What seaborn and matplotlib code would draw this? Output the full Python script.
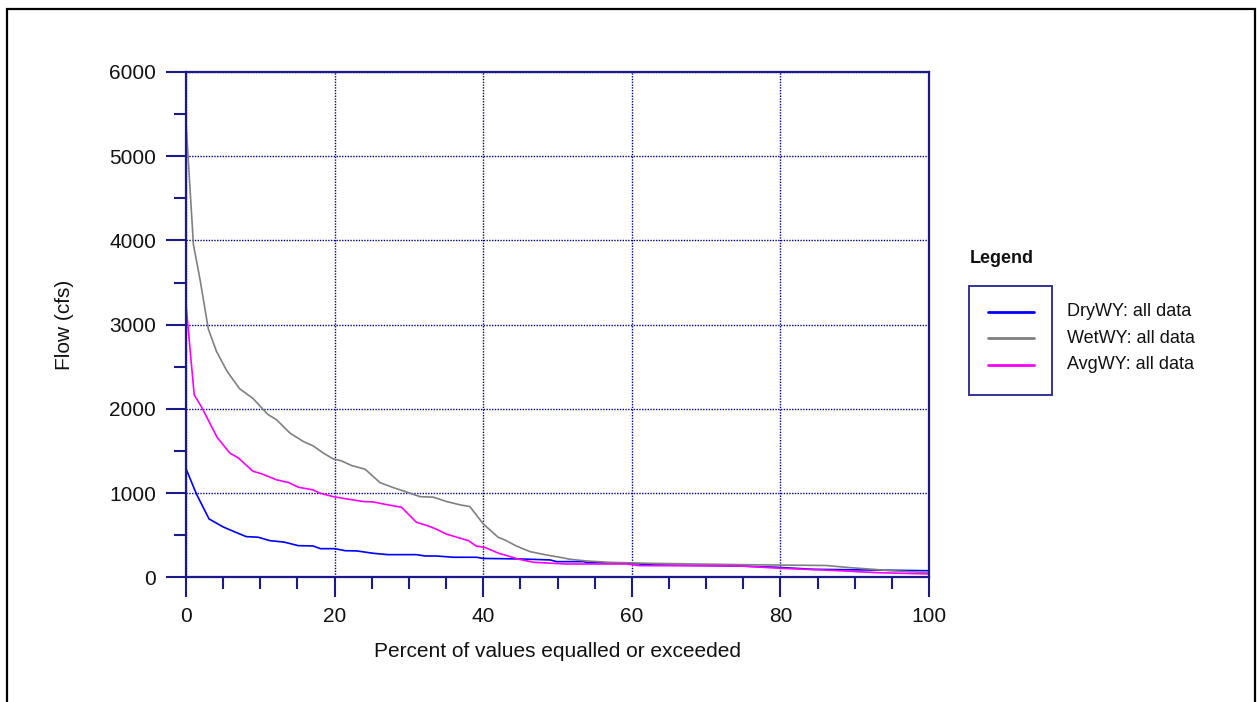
"""
Flow duration curves for dry, wet and average water years
"""

import pandas as pd
import numpy as np
import matplotlib.pyplot as plt
import seaborn as sns
from matplotlib.lines import Line2D
from matplotlib.patches import Rectangle
from matplotlib.ticker import MultipleLocator

# Data
dry_pct = [0, 1.4, 3.1, 5.0, 6.4, 8.1, 9.7, 11.3, 13.2, 15.1, 17.1, 18.1, 20.0, 21.4,
           23.0, 25.2, 27.2, 31.0, 32.2, 33.7, 36.0, 39.1, 40.0, 45.0, 49.0, 49.9,
           53.5, 54.0, 59.8, 62.9, 74.6, 79.5, 84.4, 91.6, 100]
dry_flow = [1290, 990, 693, 598, 545, 483, 476, 435, 418, 376, 372, 340, 340, 316,
            313, 285, 269, 269, 253, 253, 238, 238, 224, 218, 206, 186,
            186, 174, 166, 146, 134, 119, 95, 87, 78]

wet_pct = [0, 1.0, 1.9, 3.0, 4.1, 5.5, 7.2, 9.0, 11.0, 12.2, 14.0, 15.8, 17.1, 18.5,
           19.8, 20.9, 22.3, 24.1, 26.1, 27.9, 29.5, 31.5, 33.3, 35.1, 36.9, 38.2,
           40.0, 42.0, 43.0, 44.5, 46.3, 48.5, 50.3, 51.7, 53.9, 57.0, 62.4, 75.0,
           86.2, 89.3, 92.5, 94.8, 100]
wet_flow = [5400, 3950, 3530, 2950, 2683, 2450, 2240, 2125, 1935, 1870, 1712, 1612, 1561, 1474,
            1407, 1383, 1327, 1284, 1125, 1065, 1018, 958, 951, 899, 860, 840,
            635, 476, 440, 370, 305, 265, 238, 214, 194, 178, 166, 150,
            140, 115, 95, 78, 55]

avg_pct = [0, 1.1, 2.1, 4.2, 5.9, 7.0, 9.0, 10.2, 12.2, 13.8, 15.1, 17.1, 18.0, 19.8,
           21.6, 23.9, 25.2, 27.0, 29.0, 31.0, 32.6, 33.7, 35.1, 36.2, 38.0, 39.1,
           40.2, 42.1, 43.2, 44.8, 46.8, 51.2, 59.3, 61.1, 70.5, 74.6, 80.0, 88.0,
           93.0, 100]
avg_flow = [3240, 2168, 2020, 1660, 1474, 1420, 1260, 1228, 1157, 1125, 1070, 1038, 999, 958,
            931, 899, 895, 863, 832, 654, 610, 571, 511, 483, 435, 370,
            355, 285, 257, 214, 178, 158, 158, 138, 138, 134, 107, 78,
            55, 40]

series_names = ['DryWY: all data', 'WetWY: all data', 'AvgWY: all data']
series_colors = ['#0000FF', '#808080', '#FF00FF']

NAVY = '#1a1a8a'

sns.set_style("white")
plt.rcParams['font.family'] = ['Liberation Sans', 'DejaVu Sans']


def build_frame():
    frames = []
    for name, pct, flow in zip(series_names,
                               [dry_pct, wet_pct, avg_pct],
                               [dry_flow, wet_flow, avg_flow]):
        frames.append(pd.DataFrame({'pct': pct, 'flow': flow, 'series': name}))
    return pd.concat(frames, ignore_index=True)


def main():
    df = build_frame()

    fig = plt.figure(figsize=(12.57, 7.02), dpi=100)
    ax = fig.add_axes([186 / 1257, 1 - 577.3 / 702, 743 / 1257, 505.3 / 702])

    sns.lineplot(data=df, x='pct', y='flow', hue='series', hue_order=series_names,
                 palette=dict(zip(series_names, series_colors)), estimator=None,
                 sort=False, linewidth=1.2, legend=False, ax=ax)

    ax.set_xlim(0, 100)
    ax.set_ylim(0, 6000)
    ax.xaxis.set_major_locator(MultipleLocator(20))
    ax.xaxis.set_minor_locator(MultipleLocator(5))
    ax.yaxis.set_major_locator(MultipleLocator(1000))
    ax.yaxis.set_minor_locator(MultipleLocator(500))

    ax.grid(True, which='major', color='#00008B', linestyle=(0, (1, 1)), linewidth=1.0)
    ax.set_axisbelow(True)

    for spine in ax.spines.values():
        spine.set_color(NAVY)
        spine.set_linewidth(1.6)

    ax.tick_params(which='major', direction='out', length=14.5, width=1.5,
                   color=NAVY, labelsize=15, labelcolor='#111111', pad=7)
    ax.tick_params(which='minor', direction='out', length=8.5, width=1.5, color=NAVY)
    ax.tick_params(axis='x', which='both', bottom=True)
    ax.tick_params(axis='y', which='both', left=True)

    ax.set_xlabel('Percent of values equalled or exceeded', fontsize=15, color='#111111')
    ax.set_ylabel('Flow (cfs)', fontsize=15, color='#111111')
    ax.xaxis.set_label_coords(0.5, -0.128)
    ax.yaxis.set_label_coords(-0.151, 0.5)

    # Legend block: title, framed handles, labels to the right of the frame
    W, H = 1257, 702
    fig.text(970 / W, 1 - 259 / H, 'Legend', fontsize=13, fontweight='bold',
             ha='left', va='center', color='#111111')
    fig.add_artist(Rectangle((969 / W, 1 - 394.5 / H), 83 / W, 108.5 / H,
                             transform=fig.transFigure, fill=False,
                             edgecolor='#333399', linewidth=1.4))
    for i, (name, color) in enumerate(zip(series_names, series_colors)):
        y = 1 - (311.7 + i * 26.5) / H
        fig.add_artist(Line2D([988.5 / W, 1033.5 / W], [y, y], transform=fig.transFigure,
                              color=color, linewidth=2.0))
        fig.text(1067 / W, y, name, fontsize=13, ha='left', va='center', color='#111111')

    # Outer frame
    fig.add_artist(Rectangle((6.7 / W, -0.05), (1255 - 6.7) / W, 1.05 - 9.3 / H,
                             transform=fig.transFigure, fill=False,
                             edgecolor='black', linewidth=1.6, clip_on=False))

    fig.savefig('out.png', dpi=100)
    plt.close(fig)


if __name__ == "__main__":
    main()
